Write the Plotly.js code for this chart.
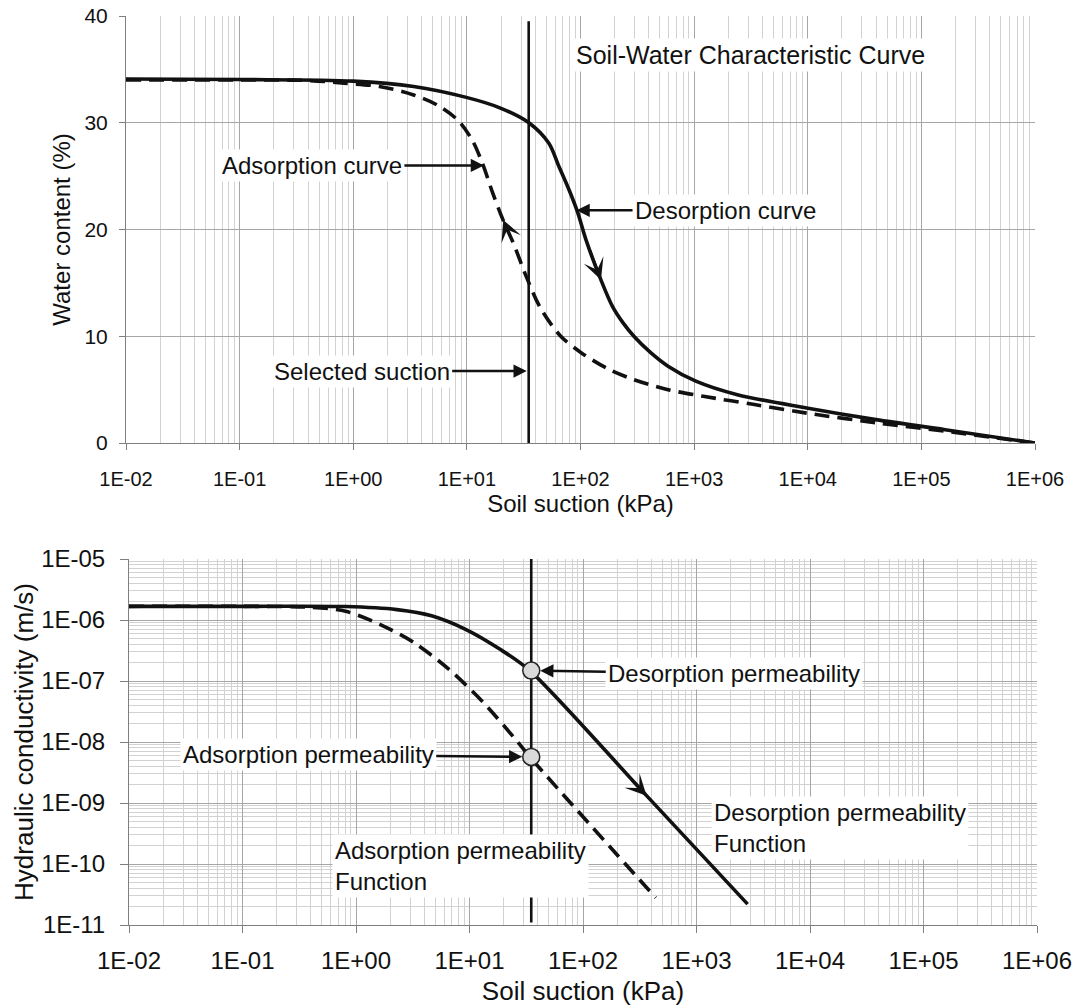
<!DOCTYPE html>
<html>
<head>
<meta charset="utf-8">
<script src="https://cdn.plot.ly/plotly-3.0.1.min.js"></script>
<style>html,body{margin:0;padding:0;background:#fff}#chart{width:1072px;height:1007px}</style>
</head>
<body>
<div id="chart"></div>
<script>
// ---------- tick labels ----------
const suctionTickVals = [1e-2, 1e-1, 1e0, 1e1, 1e2, 1e3, 1e4, 1e5, 1e6];
const suctionTickText = ['1E-02','1E-01','1E+00','1E+01','1E+02','1E+03','1E+04','1E+05','1E+06'];
const kTickVals = [1e-11, 1e-10, 1e-9, 1e-8, 1e-7, 1e-6, 1e-5];
const kTickText = ['1E-11','1E-10','1E-09','1E-08','1E-07','1E-06','1E-05'];

// ---------- soil-water characteristic curve (top) ----------
const desSuction = [0.01, 0.1, 1, 3.4, 9.7, 19.5, 35.1, 52.5, 64.6, 79.4, 94.4, 112, 151, 191, 237, 295, 417, 589, 1035, 2400, 9770, 39800, 162000, 1000000];
const desWater   = [34.1, 34.05, 33.9, 33.4, 32.4, 31.4, 30.0, 28.1, 25.9, 23.7, 21.6, 19.0, 15.3, 12.8, 11.25, 10.0, 8.44, 7.2, 5.8, 4.53, 3.28, 2.19, 1.25, 0];
const adsSuction = [0.01, 0.1, 0.42, 0.83, 1.7, 3.4, 5.5, 8.3, 11.1, 13.7, 16.9, 20.8, 25.7, 33.9, 44.7, 67, 102, 178, 295, 589, 1200, 3390, 9770, 39800, 162000, 1000000];
const adsWater   = [34.0, 34.0, 33.95, 33.7, 33.4, 32.6, 31.65, 30.25, 28.4, 26.2, 23.4, 20.9, 18.7, 15.4, 12.6, 10.0, 8.44, 6.9, 5.94, 5.0, 4.38, 3.6, 2.8, 1.9, 1.1, 0];

// ---------- hydraulic conductivity (bottom) ----------
const kDesSuction = [0.01, 0.1, 0.81, 2.29, 4.63, 9.33, 18.6, 34, 363, 2820];
const kDesValue   = [1.675e-6, 1.675e-6, 1.66e-6, 1.48e-6, 1.175e-6, 6.98e-7, 3.31e-7, 1.48e-7, 1.32e-9, 2.2e-11];
const kAdsSuction = [0.01, 0.1, 0.4, 0.81, 1.62, 3.24, 6.6, 13.2, 26.6, 34, 437];
const kAdsValue   = [1.675e-6, 1.675e-6, 1.62e-6, 1.39e-6, 8.5e-7, 4.27e-7, 1.55e-7, 4.47e-8, 1.0e-8, 5.7e-9, 2.8e-11];

// ---------- selected suction ----------
const selectedSuction = 35;
const selectedWaterSpan = [39.5, 0];
const selectedKSpan = [1e-5, 1.1e-11];
const selectedK = [1.48e-7, 5.7e-9];

const F = 'Liberation Sans, Arial, Helvetica, sans-serif';
const INK = '#111';

const traces = [
  {x: desSuction, y: desWater, xaxis: 'x', yaxis: 'y', mode: 'lines', line: {color: INK, width: 3.6, shape: 'spline', smoothing: 0.9}, name: 'Desorption curve'},
  {x: adsSuction, y: adsWater, xaxis: 'x', yaxis: 'y', mode: 'lines', line: {color: INK, width: 3.6, dash: '15px,8px', shape: 'spline', smoothing: 0.9}, name: 'Adsorption curve'},
  {x: [selectedSuction, selectedSuction], y: selectedWaterSpan, xaxis: 'x', yaxis: 'y', mode: 'lines', line: {color: INK, width: 2.6}, name: 'Selected suction'},
  {x: kDesSuction, y: kDesValue, xaxis: 'x2', yaxis: 'y2', mode: 'lines', line: {color: INK, width: 3.6, shape: 'spline', smoothing: 0.8}, name: 'Desorption permeability function'},
  {x: kAdsSuction, y: kAdsValue, xaxis: 'x2', yaxis: 'y2', mode: 'lines', line: {color: INK, width: 3.6, dash: '15px,8px', shape: 'spline', smoothing: 0.8}, name: 'Adsorption permeability function'},
  {x: [selectedSuction, selectedSuction], y: selectedKSpan, xaxis: 'x2', yaxis: 'y2', mode: 'lines', line: {color: INK, width: 2.6}, name: 'Selected suction'},
  {x: [selectedSuction, selectedSuction], y: selectedK, xaxis: 'x2', yaxis: 'y2', mode: 'markers', marker: {size: 17, color: '#d9d9d9', line: {color: '#222', width: 1.5}}, name: 'Permeability at selected suction'}
];

const gridMajor = '#a6a6a6';
const gridMinor = '#d2d2d2';
const axisLine = '#7f7f7f';

function xAxis(domain, anchor, tickSize, titleSize, standoff, labelStandoff, ticklen) {
  return {
    type: 'log', domain: domain, anchor: anchor, range: [-2, 6],
    tickmode: 'array', tickvals: suctionTickVals, ticktext: suctionTickText,
    ticks: 'outside', ticklen: ticklen, tickcolor: axisLine, tickwidth: 1,
    showline: true, linecolor: axisLine, linewidth: 1, mirror: false,
    showgrid: true, gridcolor: gridMajor, gridwidth: 1, zeroline: false,
    minor: {tickmode: 'linear', dtick: 'D1', showgrid: true, gridcolor: gridMinor, gridwidth: 1, ticks: ''},
    tickfont: {family: F, size: tickSize, color: INK},
    ticklabelstandoff: labelStandoff,
    ticklabeloverflow: 'allow',
    title: {text: 'Soil suction (kPa)', font: {family: F, size: titleSize, color: INK}, standoff: standoff},
    fixedrange: true
  };
}

const layout = {
  width: 1072, height: 1007,
  margin: {l: 0, r: 0, t: 0, b: 0},
  paper_bgcolor: '#fff', plot_bgcolor: '#fff',
  showlegend: false,
  font: {family: F, color: INK, size: 20},
  xaxis: xAxis([126/1072, 1035/1072], 'y', 20, 24, 6, 12, 6),
  yaxis: {
    domain: [(1007-443)/1007, (1007-16)/1007], anchor: 'x', range: [0, 40],
    tickmode: 'linear', tick0: 0, dtick: 10,
    ticks: 'outside', ticklen: 6, tickcolor: axisLine,
    showline: true, linecolor: axisLine, linewidth: 1,
    showgrid: true, gridcolor: gridMajor, zeroline: false,
    tickfont: {family: F, size: 21, color: INK},
    ticklabelstandoff: 7,
    title: {text: 'Water content (%)', font: {family: F, size: 24, color: INK}, standoff: 7},
    fixedrange: true
  },
  xaxis2: xAxis([129/1072, 1037/1072], 'y2', 24, 26, 9, 7, 7),
  yaxis2: {
    type: 'log', domain: [(1007-925)/1007, (1007-559)/1007], anchor: 'x2', range: [-11, -5],
    tickmode: 'array', tickvals: kTickVals, ticktext: kTickText,
    ticks: 'outside', ticklen: 8, tickcolor: axisLine,
    showline: true, linecolor: axisLine, linewidth: 1,
    showgrid: true, gridcolor: gridMajor, zeroline: false,
    minor: {tickmode: 'linear', dtick: 'D1', showgrid: true, gridcolor: gridMinor, gridwidth: 1, ticks: ''},
    tickfont: {family: F, size: 24, color: INK},
    ticklabelstandoff: 10,
    title: {text: 'Hydraulic conductivity (m/s)', font: {family: F, size: 26, color: INK}, standoff: 0},
    fixedrange: true
  },
  annotations: [
    // top chart labels
    {xref: 'x', yref: 'y', x: 1.935, y: 36.3, xanchor: 'left', yanchor: 'middle', text: 'Soil-Water Characteristic Curve', showarrow: false, font: {family: F, size: 25, color: INK}, bgcolor: '#fff', borderpad: 2},
    {xref: 'x', yref: 'y', x: 1.15, y: 26.0, text: 'Adsorption curve', showarrow: true, ax: -172, ay: 0, arrowhead: 2, arrowsize: 1.1, arrowwidth: 2.4, arrowcolor: INK, standoff: 0, font: {family: F, size: 24, color: INK}, bgcolor: '#fff', borderpad: 2},
    {xref: 'x', yref: 'y', x: 1.965, y: 21.8, text: 'Desorption curve', showarrow: true, ax: 149, ay: 0, arrowhead: 2, arrowsize: 1.1, arrowwidth: 2.4, arrowcolor: INK, standoff: 0, font: {family: F, size: 24, color: INK}, bgcolor: '#fff', borderpad: 2},
    {xref: 'x', yref: 'y', x: Math.log10(selectedSuction), y: 6.74, text: 'Selected suction', showarrow: true, ax: -167, ay: 0, arrowhead: 2, arrowsize: 1.1, arrowwidth: 2.4, arrowcolor: INK, standoff: 2, font: {family: F, size: 24, color: INK}, bgcolor: '#fff', borderpad: 2},
    // direction arrows on the top curves
    {xref: 'x', yref: 'y', axref: 'x', ayref: 'y', x: 2.18, y: 15.3, ax: 2.08, ay: 18.15, text: '', showarrow: true, arrowhead: 3, arrowsize: 1.4, arrowwidth: 2.5, arrowcolor: INK},
    {xref: 'x', yref: 'y', axref: 'x', ayref: 'y', x: 1.32, y: 20.9, ax: 1.37, ay: 19.6, text: '', showarrow: true, arrowhead: 3, arrowsize: 1.4, arrowwidth: 2.5, arrowcolor: INK},
    // bottom chart labels
    {xref: 'x2', yref: 'y2', x: Math.log10(selectedSuction), y: Math.log10(selectedK[0]), text: 'Desorption permeability', showarrow: true, ax: 203, ay: 3, arrowhead: 2, arrowsize: 1.1, arrowwidth: 2.4, arrowcolor: INK, standoff: 9, font: {family: F, size: 24, color: INK}, bgcolor: '#fff', borderpad: 2},
    {xref: 'x2', yref: 'y2', x: Math.log10(selectedSuction), y: Math.log10(selectedK[1]), text: 'Adsorption permeability', showarrow: true, ax: -223, ay: -2, arrowhead: 2, arrowsize: 1.1, arrowwidth: 2.4, arrowcolor: INK, standoff: 9, font: {family: F, size: 24, color: INK}, bgcolor: '#fff', borderpad: 2},
    {xref: 'x2', yref: 'y2', x: 3.128, y: -9.41, xanchor: 'left', yanchor: 'middle', align: 'left', text: 'Desorption permeability<br>Function', showarrow: false, font: {family: F, size: 24, color: INK}, bgcolor: '#fff', borderpad: 2},
    {xref: 'x2', yref: 'y2', x: -0.211, y: -10.03, xanchor: 'left', yanchor: 'middle', align: 'left', text: 'Adsorption permeability<br>Function', showarrow: false, font: {family: F, size: 24, color: INK}, bgcolor: '#fff', borderpad: 2},
    // direction arrow on bottom desorption function
    {xref: 'x2', yref: 'y2', axref: 'x2', ayref: 'y2', x: 2.56, y: -8.88, ax: 2.42, ay: -8.61, text: '', showarrow: true, arrowhead: 3, arrowsize: 1.4, arrowwidth: 2.5, arrowcolor: INK}
  ]
};

Plotly.newPlot('chart', traces, layout, {staticPlot: true, displayModeBar: false});
</script>
</body>
</html>
